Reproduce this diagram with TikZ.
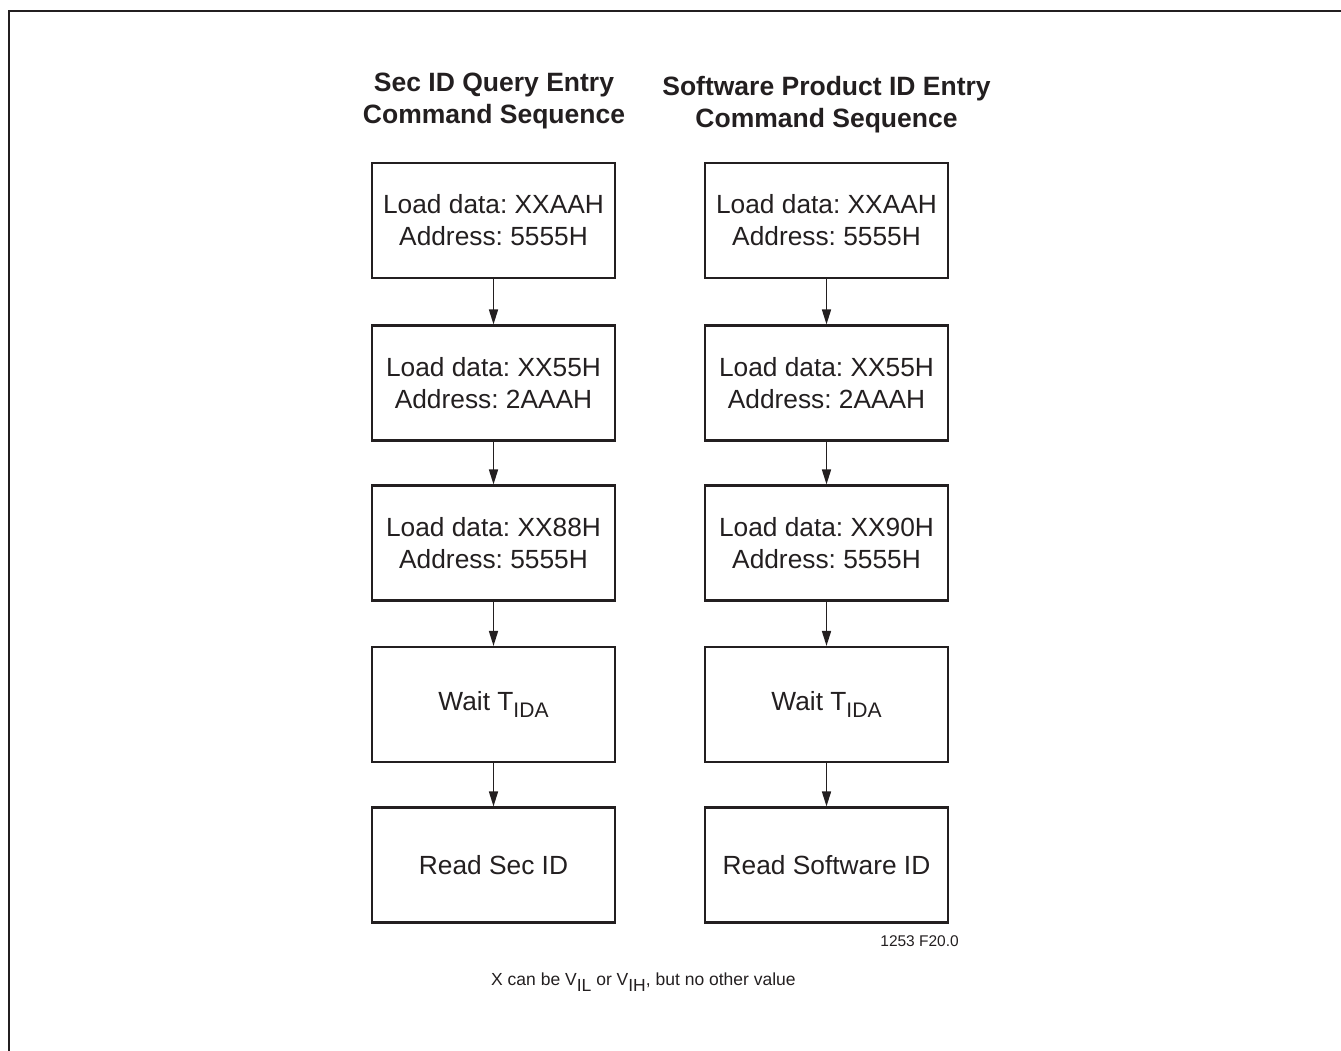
\documentclass[tikz,border=0pt]{standalone}
\usepackage{fontspec}
\usepackage{graphicx}
\setmainfont{Liberation Sans}
\usetikzlibrary{arrows.meta}
\definecolor{ink}{HTML}{231F20}
\frenchspacing
\newcommand{\lowsub}[1]{\raisebox{-0.24em}{\scalebox{0.8}{#1}}}
\newcommand{\fullsub}[1]{\raisebox{-0.33em}{#1}}
\tikzset{
  x=1pt, y=-1pt,
  stepbox/.style={draw=ink, line width=2.1pt, minimum width=243pt, minimum height=115pt,
    inner sep=0pt, align=center, text=ink, font=\fontsize{26.3}{32}\selectfont},
  titletext/.style={align=center, text=ink, inner sep=0pt, font=\bfseries\fontsize{26.5}{32}\selectfont},
  flow/.style={draw=ink, line width=1.6pt, -{Triangle[length=15pt,width=9pt]}},
  note/.style={text=ink, inner sep=0pt, font=\fontsize{15.5}{18}\selectfont},
  bignote/.style={text=ink, inner sep=0pt, font=\fontsize{17.5}{20}\selectfont},
}
\begin{document}
\begin{tikzpicture}
\useasboundingbox (0,0) rectangle (1341,1051);
\coordinate (fa) at (9,1051);
\coordinate (fb) at (9,11);
\coordinate (fc) at (1341,11);
\draw[ink, line width=2.5pt] (fa) -- (fb) -- (fc);

\node[titletext] (t1) at (494,101) {Sec ID Query Entry\\Command Sequence};
\node[titletext] (t2) at (826.5,105) {Software Product ID Entry\\Command Sequence};

\node[stepbox] (a1) at (493.5,220.5) {Load data: XXAAH\\Address: 5555H};
\node[stepbox] (a2) at (493.5,383) {Load data: XX55H\\Address: 2AAAH};
\node[stepbox] (a3) at (493.5,543) {Load data: XX88H\\Address: 5555H};
\node[stepbox] (a4) at (493.5,704.5) {Wait T\lowsub{IDA}};
\node[stepbox] (a5) at (493.5,865) {Read Sec ID};

\node[stepbox] (b1) at (826.5,220.5) {Load data: XXAAH\\Address: 5555H};
\node[stepbox] (b2) at (826.5,383) {Load data: XX55H\\Address: 2AAAH};
\node[stepbox] (b3) at (826.5,543) {Load data: XX90H\\Address: 5555H};
\node[stepbox] (b4) at (826.5,704.5) {Wait T\lowsub{IDA}};
\node[stepbox] (b5) at (826.5,865) {Read Software ID};

\draw[flow] (a1) -- (a2);
\draw[flow] (a2) -- (a3);
\draw[flow] (a3) -- (a4);
\draw[flow] (a4) -- (a5);
\draw[flow] (b1) -- (b2);
\draw[flow] (b2) -- (b3);
\draw[flow] (b3) -- (b4);
\draw[flow] (b4) -- (b5);

\node[note, anchor=east] (fig) at (959,941) {1253 F20.0};
\node[bignote, anchor=west] (xnote) at (491,982) {X can be V\fullsub{IL} or V\fullsub{IH}, but no other value};
\end{tikzpicture}
\end{document}
